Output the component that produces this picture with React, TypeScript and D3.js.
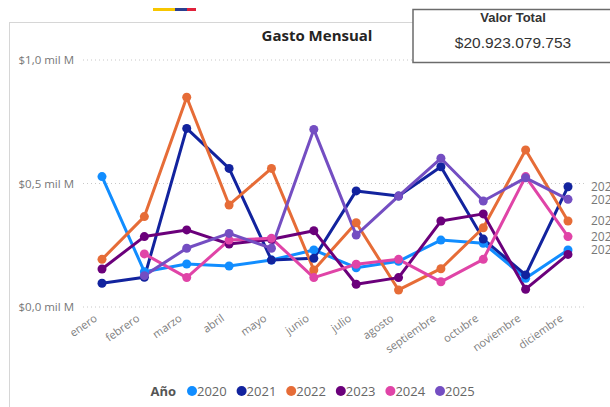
import React from "react";
import * as d3 from "d3";

const months = ["enero","febrero","marzo","abril","mayo","junio","julio","agosto","septiembre","octubre","noviembre","diciembre"];
const years = ["2020","2021","2022","2023","2024","2025"];
const colors = ["#118DFF","#12239E","#E66C37","#6B007B","#E044A7","#744EC2"];
const yTicks = [0, 0.5, 1.0];
const yTickLabels = ["$0,0 mil M","$0,5 mil M","$1,0 mil M"];

// values in "mil M" (thousand millions)
const v2020 = [0.528,0.143,0.174,0.166,0.19,0.231,0.159,0.185,0.271,0.258,0.116,0.231];
const v2021 = [0.096,0.12,0.723,0.561,0.19,0.197,0.47,0.449,0.568,0.275,0.13,0.487];
const v2022 = [0.193,0.366,0.849,0.413,0.561,0.15,0.341,0.069,0.155,0.321,0.636,0.348];
const v2023 = [0.154,0.285,0.312,0.255,0.274,0.309,0.092,0.119,0.348,0.377,0.072,0.213];
const v2024 = [null,0.215,0.119,0.271,0.278,0.119,0.173,0.193,0.102,0.193,0.528,0.285];
const v2025 = [null,0.127,0.238,0.298,0.238,0.719,0.291,0.449,0.602,0.429,0.523,0.436];
const series = [v2020, v2021, v2022, v2023, v2024, v2025];

const title = "Gasto Mensual";
const cardTitle = "Valor Total";
const cardValue = "$20.923.079.753";
const legendTitle = "Año";

const FONT = "'Segoe UI', 'Open Sans', sans-serif";

export default function App() {
  const x = d3.scalePoint<string>().domain(months).range([102, 568]);
  const y = d3.scaleLinear().domain([0, 1]).range([307, 60]);
  const line = d3
    .line<number | null>()
    .defined((d) => d !== null)
    .x((_, i) => x(months[i]) as number)
    .y((d) => y(d as number));

  // end labels with simple collision avoidance
  const kept: { y: number; i: number }[] = [];
  series.forEach((s, i) => {
    const last = s[s.length - 1];
    if (last === null) return;
    const yy = y(last);
    if (kept.every((k) => Math.abs(k.y - yy) >= 11)) kept.push({ y: yy, i });
  });

  const legendStartX = 192;
  const legendStep = 49.6;

  return (
    <svg width={610} height={407} style={{ position: "absolute", left: 0, top: 0, background: "#fff" }} fontFamily={FONT}>
      {/* decoration bar */}
      <rect x={153} y={8} width={22} height={3} fill="#F7C600" />
      <rect x={175} y={8} width={12} height={3} fill="#2B3F8F" />
      <rect x={187} y={8} width={9} height={3} fill="#E0213B" />

      {/* panel border */}
      <line x1={9} y1={22.5} x2={413} y2={22.5} stroke="#d6d6d6" strokeWidth={1} />
      <line x1={9.5} y1={22} x2={9.5} y2={407} stroke="#d6d6d6" strokeWidth={1} />

      {/* title */}
      <text x={317} y={41} textAnchor="middle" fontSize={15} fontWeight={700} fill="#252423">{title}</text>

      {/* gridlines and y labels */}
      {yTicks.map((t, i) => (
        <g key={t}>
          <line x1={83} x2={587} y1={y(t)} y2={y(t)} stroke="#c8c8c8" strokeDasharray="1 3" strokeWidth={1} />
          <text x={74} y={y(t)} dy="0.35em" textAnchor="end" fontSize={11.5} fill="#777">{yTickLabels[i]}</text>
        </g>
      ))}

      {/* x labels */}
      {months.map((m) => (
        <text key={m} transform={`translate(${(x(m) as number) - 4},320) rotate(-35)`} textAnchor="end" fontSize={11} fill="#808080">{m}</text>
      ))}

      {/* lines */}
      {series.map((s, i) => (
        <path key={years[i]} d={line(s) || ""} fill="none" stroke={colors[i]} strokeWidth={3} strokeLinejoin="round" />
      ))}
      {series.map((s, i) => (
        <g key={"m" + years[i]}>
          {s.map((d, j) =>
            d === null ? null : (
              <circle key={j} cx={x(months[j]) as number} cy={y(d)} r={4.5} fill={colors[i]} />
            )
          )}
        </g>
      ))}

      {/* end labels */}
      {kept.map((k) => (
        <text key={"l" + k.i} x={591} y={k.y} dy="0.35em" fontSize={12} fill="#777">{years[k.i]}</text>
      ))}

      {/* legend */}
      <text x={176} y={391} dy="0.35em" textAnchor="end" fontSize={13} fontWeight={700} fill="#555">{legendTitle}</text>
      {years.map((yr, i) => (
        <g key={"lg" + yr} transform={`translate(${legendStartX + i * legendStep},391)`}>
          <circle cx={0} cy={0} r={5} fill={colors[i]} />
          <text x={5} y={0} dy="0.35em" fontSize={13} fill="#666">{yr}</text>
        </g>
      ))}

      {/* card */}
      <rect x={413} y={9.5} width={220} height={53} fill="#fff" stroke="#6b6b6b" strokeWidth={1.5} />
      <text x={513} y={17} dy="0.35em" textAnchor="middle" fontSize={13} fontWeight={700} fill="#333" fontFamily="'Liberation Sans', Arial, sans-serif">{cardTitle}</text>
      <text x={513} y={43} dy="0.35em" textAnchor="middle" fontSize={15.5} fill="#333" fontFamily="'Liberation Sans', Arial, sans-serif">{cardValue}</text>
    </svg>
  );
}
